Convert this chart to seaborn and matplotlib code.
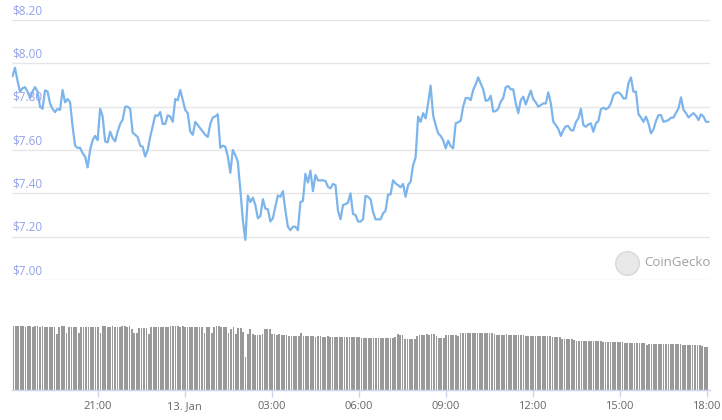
import matplotlib
matplotlib.use("Agg")
import matplotlib.pyplot as plt
import matplotlib.dates as mdates
import numpy as np
import pandas as pd
import seaborn as sns

# price (USD), roughly every 5 minutes, 12 Jan 18:04 -> 13 Jan 18:04
price = [
    7.94, 7.98, 7.92, 7.87, 7.885, 7.89, 7.87, 7.84, 7.87, 7.89,
    7.87, 7.80, 7.79, 7.875, 7.87, 7.815, 7.79, 7.775, 7.79, 7.785,
    7.877, 7.82, 7.835, 7.82, 7.71, 7.62, 7.61, 7.61, 7.585, 7.57,
    7.52, 7.60, 7.645, 7.665, 7.645, 7.79, 7.755, 7.64, 7.635, 7.685,
    7.655, 7.64, 7.685, 7.72, 7.74,
    7.80, 7.80, 7.79, 7.68, 7.67, 7.66, 7.62, 7.615, 7.57, 7.60,
    7.66, 7.71, 7.76, 7.757, 7.775, 7.72, 7.72, 7.76, 7.755, 7.73,
    7.835, 7.83, 7.877, 7.83, 7.785, 7.77, 7.685, 7.67, 7.73, 7.715,
    7.70, 7.685, 7.67, 7.66, 7.72, 7.75, 7.755, 7.765, 7.61, 7.62,
    7.615, 7.57, 7.495, 7.60, 7.577, 7.546,
    7.415, 7.277, 7.185, 7.39, 7.36, 7.38, 7.346, 7.285, 7.295, 7.373,
    7.33, 7.326, 7.27, 7.285, 7.34, 7.39, 7.384, 7.41, 7.32, 7.245,
    7.23, 7.246, 7.246, 7.23, 7.36, 7.365, 7.49, 7.45, 7.505, 7.41,
    7.485, 7.46, 7.46, 7.46, 7.457, 7.43, 7.423, 7.443, 7.438, 7.32,
    7.28, 7.346, 7.35, 7.357, 7.40, 7.305, 7.30, 7.27,
    7.27, 7.28, 7.388, 7.384, 7.373, 7.315, 7.28, 7.28, 7.28, 7.307,
    7.32, 7.395, 7.395, 7.46, 7.446, 7.438, 7.428, 7.443, 7.384, 7.438,
    7.454, 7.53, 7.566, 7.754, 7.73, 7.77, 7.746, 7.815, 7.897, 7.76,
    7.715, 7.677, 7.665, 7.646, 7.608, 7.643, 7.618, 7.608, 7.723, 7.728,
    7.735, 7.80,
    7.84, 7.84, 7.83, 7.877, 7.903, 7.935, 7.908, 7.88, 7.827, 7.83,
    7.85, 7.777, 7.78, 7.79, 7.823, 7.84, 7.89, 7.895, 7.88, 7.88,
    7.815, 7.77, 7.83, 7.846, 7.81, 7.843, 7.874, 7.834, 7.82, 7.80,
    7.807, 7.815, 7.815, 7.866, 7.815, 7.73, 7.715, 7.697, 7.665, 7.692,
    7.71, 7.71, 7.692, 7.69, 7.728, 7.746, 7.79, 7.715,
    7.707, 7.718, 7.723, 7.684, 7.723, 7.734, 7.788, 7.795, 7.788, 7.795,
    7.815, 7.854, 7.864, 7.866, 7.857, 7.838, 7.838, 7.908, 7.935, 7.869,
    7.869, 7.765, 7.75, 7.73, 7.754, 7.723, 7.677, 7.695, 7.734, 7.761,
    7.761, 7.73, 7.734, 7.738, 7.749, 7.75, 7.772, 7.792, 7.843, 7.785,
    7.77, 7.75, 7.761, 7.77, 7.758, 7.738, 7.765, 7.754, 7.73, 7.73,
]

# 5-minute volume (millions)
volume = (
    [3.22, 3.22, 3.20, 3.20, 3.20, 3.18, 3.20, 3.20, 3.18, 3.20, 3.20, 3.18, 3.20, 3.18, 3.17, 3.18, 3.17, 3.17]
    + [2.83, 3.15, 3.20, 3.20, 2.87, 3.17, 3.17, 3.17, 3.17, 2.87, 3.17]
    + [3.17] * 7 + [2.87]
    + [3.20, 3.20, 3.18, 3.18, 3.20, 3.18, 3.18, 3.17, 3.20, 3.20, 3.18, 3.20]
    + [3.05, 2.87, 2.87, 3.13, 3.13, 3.13, 3.13, 2.83]
    + [3.15, 3.17, 3.17, 3.17, 3.17, 3.17, 3.18, 3.18, 3.20, 3.20, 3.20, 3.20, 3.18, 3.20, 3.18, 3.17, 3.18, 3.17, 3.15, 3.15, 3.17]
    + [3.17, 2.87, 3.17, 3.17, 2.87, 3.17]
    + [3.20, 3.20, 3.18, 3.18, 3.15, 2.87, 3.08, 3.15, 2.83, 3.12, 3.12, 2.90]
    + [1.67, 2.80, 3.08, 2.80, 2.78, 2.78, 2.78, 2.80, 3.05, 3.05, 3.05]
    + [2.80, 2.80, 2.78, 2.80, 2.78, 2.78, 2.75, 2.70, 2.70, 2.70, 2.70, 2.70, 2.88]
    + [2.72, 2.72, 2.70, 2.70, 2.70, 2.68, 2.70, 2.70, 2.68, 2.68, 2.70, 2.68,
       2.68, 2.68, 2.67, 2.68, 2.67, 2.67, 2.67, 2.68, 2.67, 2.67, 2.67, 2.65]
    + [2.63, 2.62, 2.62, 2.62, 2.62, 2.60, 2.62, 2.62, 2.62, 2.60, 2.60, 2.62, 2.62, 2.62, 2.65]
    + [2.80, 2.78, 2.78, 2.55, 2.55, 2.55, 2.55, 2.55]
    + [2.72, 2.75, 2.78, 2.78, 2.80, 2.78, 2.80, 2.80, 2.73, 2.63, 2.63, 2.63]
    + [2.78, 2.75, 2.78, 2.78, 2.75, 2.72]
    + [2.85, 2.87, 2.87, 2.87, 2.87, 2.87, 2.87, 2.87, 2.87, 2.87, 2.87, 2.85, 2.85, 2.85, 2.83, 2.75]
    + [2.78, 2.78, 2.78, 2.80, 2.78, 2.78, 2.78, 2.77, 2.77, 2.75, 2.75]
    + [2.70, 2.72, 2.72, 2.72, 2.70, 2.70, 2.70, 2.70, 2.70, 2.70, 2.70, 2.68, 2.68, 2.68, 2.67]
    + [2.58, 2.58, 2.58, 2.55, 2.55, 2.53]
    + [2.47, 2.47, 2.45, 2.45, 2.47, 2.45, 2.45, 2.45, 2.45, 2.45, 2.45, 2.43, 2.43,
       2.42, 2.42, 2.42, 2.42, 2.42, 2.42]
    + [2.40, 2.38, 2.38, 2.38, 2.38, 2.38, 2.38, 2.38, 2.37, 2.35, 2.28]
    + [2.33, 2.33, 2.33, 2.32, 2.32, 2.32, 2.32, 2.32, 2.30, 2.30, 2.30, 2.30, 2.30,
       2.30, 2.28, 2.28, 2.28, 2.28, 2.27]
    + [2.25, 2.25, 2.25, 2.20, 2.17, 2.17]
)

price_ticks = [7.00, 7.20, 7.40, 7.60, 7.80, 8.00, 8.20]
time_ticks = ["2021-01-12 21:00", "2021-01-13 00:00", "2021-01-13 03:00", "2021-01-13 06:00",
              "2021-01-13 09:00", "2021-01-13 12:00", "2021-01-13 15:00", "2021-01-13 18:00"]
time_labels = ["21:00", "13. Jan", "03:00", "06:00", "09:00", "12:00", "15:00", "18:00"]

start = pd.Timestamp("2021-01-12 18:04")
df_price = pd.DataFrame({
    "time": pd.date_range(start, start + pd.Timedelta(hours=24), periods=len(price)),
    "price": price,
})
df_vol = pd.DataFrame({
    "time": pd.date_range("2021-01-12 18:06", periods=len(volume), freq="5min"),
    "volume": volume,
})
xlim = (pd.Timestamp("2021-01-12 18:03"), pd.Timestamp("2021-01-13 18:07"))

sns.set_theme(style="white")
plt.rcParams["font.family"] = ["Open Sans", "DejaVu Sans"]

W, H = 722, 420
fig = plt.figure(figsize=(W / 100, H / 100), dpi=100)
fig.patch.set_facecolor("white")

# price panel
ax = fig.add_axes([12 / W, (H - 280) / H, 698 / W, 260 / H])
for v in price_ticks:
    ax.axhline(v, color="#e6e6e6", lw=1, zorder=0)
    ax.annotate(f"${v:.2f}", xy=(0, v), xycoords=("axes fraction", "data"),
                xytext=(0, 2), textcoords="offset points", ha="left", va="bottom",
                fontsize=8.5, color="#93a2ea")
sns.lineplot(data=df_price, x="time", y="price", ax=ax, color="#7cb5ec", lw=1.6)
ax.set_xlim(*xlim)
ax.set_ylim(7.0, 8.2)
ax.set_xticks([])
ax.set_yticks([])
ax.set_xlabel("")
ax.set_ylabel("")
sns.despine(ax=ax, left=True, bottom=True)
ax.patch.set_alpha(0)

# watermark
ax.plot([(627 - 12) / 698], [(280 - 263) / 260], "o", ms=17, mfc="#e9e9e9",
        mec="#d8d8d8", mew=1, transform=ax.transAxes, clip_on=False)
ax.text((644 - 12) / 698, (280 - 263) / 260, "CoinGecko", transform=ax.transAxes,
        ha="left", va="center", fontsize=9.5, color="#a0a0a0")

# volume panel
axv = fig.add_axes([12 / W, (H - 390) / H, 698 / W, 68 / H])
axv.bar(df_vol["time"], df_vol["volume"], width=1.75 / 2.42 * 5 / 1440,
        color="#999999", linewidth=0)
axv.set_xlim(*xlim)
axv.set_ylim(0, 3.42)
axv.set_yticks([])
axv.set_xticks(pd.to_datetime(time_ticks))
axv.set_xticklabels(time_labels, fontsize=8, color="#666666")
axv.tick_params(axis="x", length=5, width=1, color="#ccd6eb", pad=3, bottom=True)
sns.despine(ax=axv, left=True)
axv.spines["bottom"].set_color("#ccd6eb")
axv.spines["bottom"].set_linewidth(1)
axv.patch.set_alpha(0)

fig.savefig("out.png", dpi=100, facecolor="white")
